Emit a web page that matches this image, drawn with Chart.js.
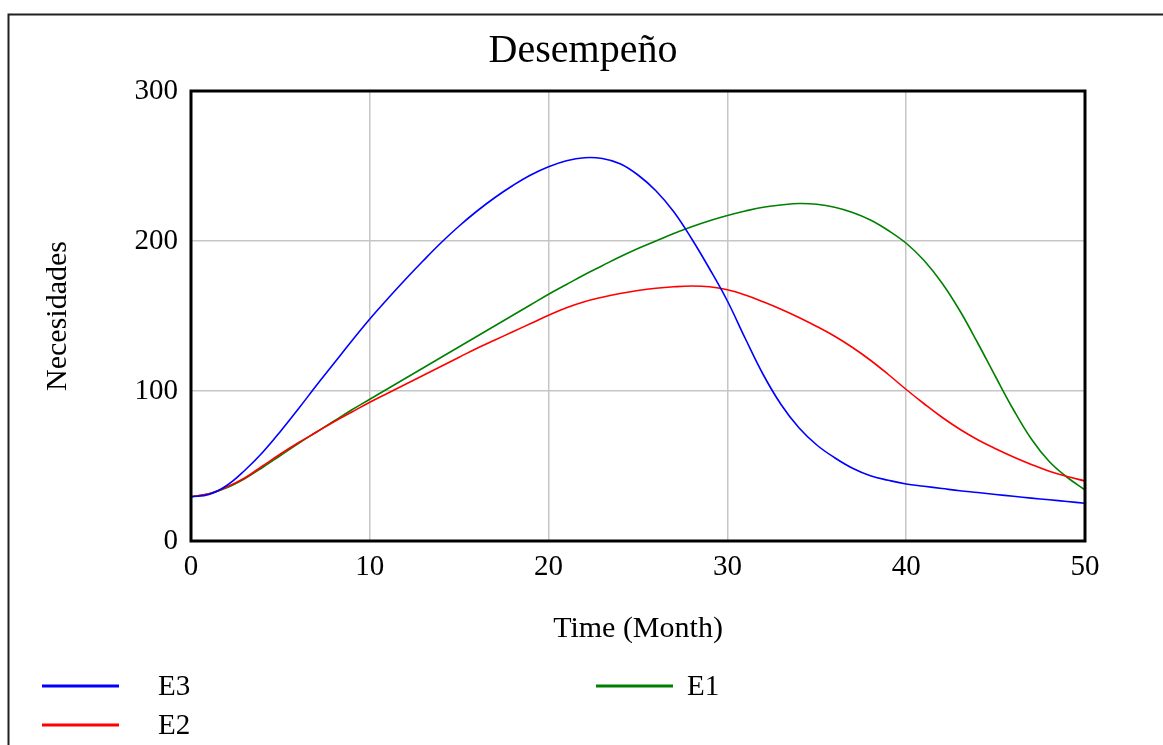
<!DOCTYPE html>
<html lang="es">
<head>
<meta charset="utf-8">
<title>Desempeño</title>
<script src="https://cdn.jsdelivr.net/npm/chart.js@4.4.1/dist/chart.umd.min.js"></script>
<style>
  html, body { margin: 0; padding: 0; background: #ffffff; }
  canvas { display: block; }
</style>
</head>
<body>
<canvas id="chart" width="1163" height="745"></canvas>
<script>
// Simulation time (months)
const months = [0, 1, 2, 3, 4, 5, 6, 7, 8, 9, 10, 11, 12, 13, 14, 15, 16, 17, 18, 19, 20,
  21, 22, 23, 24, 25, 26, 27, 28, 29, 30, 31, 32, 33, 34, 35, 36, 37, 38, 39, 40,
  41, 42, 43, 44, 45, 46, 47, 48, 49, 50];

// Necesidades per scenario
const e3 = [29.5, 31, 37, 47, 59, 73, 88, 103.5, 118.5, 133.5, 148, 161.5, 174.5, 187, 199, 210, 220, 229, 237, 244, 249.5,
  253.5, 255.5, 255, 251.5, 244, 233.5, 219.5, 201.5, 181.5, 160, 135, 111, 91, 75.5, 64, 55.5, 48.5, 43.5, 40.5, 38,
  36.5, 35, 33.5, 32.3, 31, 29.8, 28.6, 27.5, 26.3, 25.2];
const e2 = [29.5, 31.5, 36, 42, 50, 58, 65.5, 72.5, 79.5, 86, 92.5, 98.5, 104.5, 110.5, 116.5, 122.5, 128.5, 134, 139.5, 145, 150.5,
  155.5, 159.5, 162.5, 165, 167, 168.5, 169.5, 170, 169.5, 167.5, 164, 159.5, 154.5, 149, 143, 136.5, 129, 120.5, 111, 101,
  91.5, 82.5, 74.5, 67.5, 61.5, 56, 51, 46.5, 43, 40];
const e1 = [29.5, 31.5, 35.5, 41.5, 49, 57, 65, 72.5, 80, 87.5, 94.5, 101.5, 108.5, 115.5, 122.5, 129.5, 136.5, 143.5, 150.5, 157.5, 164.5,
  171, 177.5, 183.5, 189.5, 195, 200, 205, 209.5, 213.5, 217, 220, 222.5, 224, 225, 224.5, 222.5, 219, 214, 207, 198.5,
  187, 172, 153.5, 132, 109.5, 87.5, 68, 53, 42.5, 34];

// Axis ticks
const xTicks = [0, 10, 20, 30, 40, 50];
const yTicks = [0, 100, 200, 300];

const chartTitle = 'Desempeño';
const xTitle = 'Time (Month)';
const yTitle = 'Necesidades';

const SERIF = '"Liberation Serif", "Times New Roman", serif';

const toPoints = (vals) => months.map((m, i) => ({ x: m, y: vals[i] }));

const series = [
  { label: 'E3', values: e3, color: '#0000ff' },
  { label: 'E2', values: e2, color: '#ff0000' },
  { label: 'E1', values: e1, color: '#008000' }
];

// Frame, title and legend drawn around the plot
const decor = {
  id: 'decor',
  beforeDraw(chart) {
    const { ctx, width, height } = chart;
    ctx.save();
    ctx.fillStyle = '#ffffff';
    ctx.fillRect(0, 0, width, height);
    ctx.strokeStyle = '#202020';
    ctx.lineWidth = 2;
    ctx.beginPath();
    ctx.moveTo(8.5, height);
    ctx.lineTo(8.5, 14.5);
    ctx.lineTo(width, 14.5);
    ctx.stroke();
    ctx.restore();
  },
  afterDatasetsDraw(chart) {
    const { ctx, chartArea: a } = chart;
    ctx.save();
    ctx.strokeStyle = '#000000';
    ctx.lineWidth = 3;
    ctx.strokeRect(a.left, a.top, a.right - a.left, a.bottom - a.top);
    ctx.restore();
  },
  afterDraw(chart) {
    const { ctx } = chart;
    ctx.save();
    ctx.fillStyle = '#000000';
    ctx.font = '40px ' + SERIF;
    ctx.textAlign = 'center';
    ctx.textBaseline = 'alphabetic';
    ctx.fillText(chartTitle, 583, 62);

    const slots = [
      { x: 42, y: 686 },
      { x: 42, y: 725 },
      { x: 596, y: 686 }
    ];
    ctx.font = '29px ' + SERIF;
    ctx.textAlign = 'left';
    ctx.textBaseline = 'middle';
    chart.data.datasets.forEach((ds, i) => {
      const s = slots[i];
      ctx.strokeStyle = ds.borderColor;
      ctx.lineWidth = 3;
      ctx.beginPath();
      ctx.moveTo(s.x, s.y);
      ctx.lineTo(s.x + 77, s.y);
      ctx.stroke();
      ctx.fillStyle = '#000000';
      ctx.fillText(ds.label, s.x + (i === 2 ? 91 : 116), s.y + 1);
    });
    ctx.restore();
  }
};

new Chart(document.getElementById('chart'), {
  type: 'line',
  data: {
    datasets: series.map(s => ({
      label: s.label,
      data: toPoints(s.values),
      borderColor: s.color,
      backgroundColor: s.color,
      borderWidth: 1.6,
      pointRadius: 0,
      fill: false,
      tension: 0.4
    }))
  },
  options: {
    responsive: false,
    animation: false,
    devicePixelRatio: 1,
    layout: { padding: { top: 91, right: 78, left: 0, bottom: 0 } },
    plugins: {
      legend: { display: false },
      title: { display: false },
      tooltip: { enabled: false }
    },
    scales: {
      x: {
        type: 'linear',
        min: xTicks[0],
        max: xTicks[xTicks.length - 1],
        afterBuildTicks(scale) { scale.ticks = xTicks.map(v => ({ value: v })); },
        afterFit(scale) { scale.height = 204; },
        grid: { color: '#c6c6c6', lineWidth: 1.5, drawTicks: false },
        border: { display: false },
        ticks: {
          color: '#000000',
          padding: 9,
          maxRotation: 0,
          font: { family: SERIF, size: 29 }
        },
        title: {
          display: true,
          text: xTitle,
          color: '#000000',
          font: { family: SERIF, size: 30 },
          padding: { top: 0, bottom: 98 }
        }
      },
      y: {
        min: yTicks[0],
        max: yTicks[yTicks.length - 1],
        afterBuildTicks(scale) { scale.ticks = yTicks.map(v => ({ value: v })); },
        afterFit(scale) { scale.width = 191; },
        grid: { color: '#c6c6c6', lineWidth: 1.5, drawTicks: false },
        border: { display: false },
        ticks: {
          color: '#000000',
          padding: 13,
          font: { family: SERIF, size: 29 }
        },
        title: {
          display: true,
          text: yTitle,
          color: '#000000',
          font: { family: SERIF, size: 30 },
          padding: { top: 40, bottom: 0 }
        }
      }
    }
  },
  plugins: [decor]
});
</script>
</body>
</html>
